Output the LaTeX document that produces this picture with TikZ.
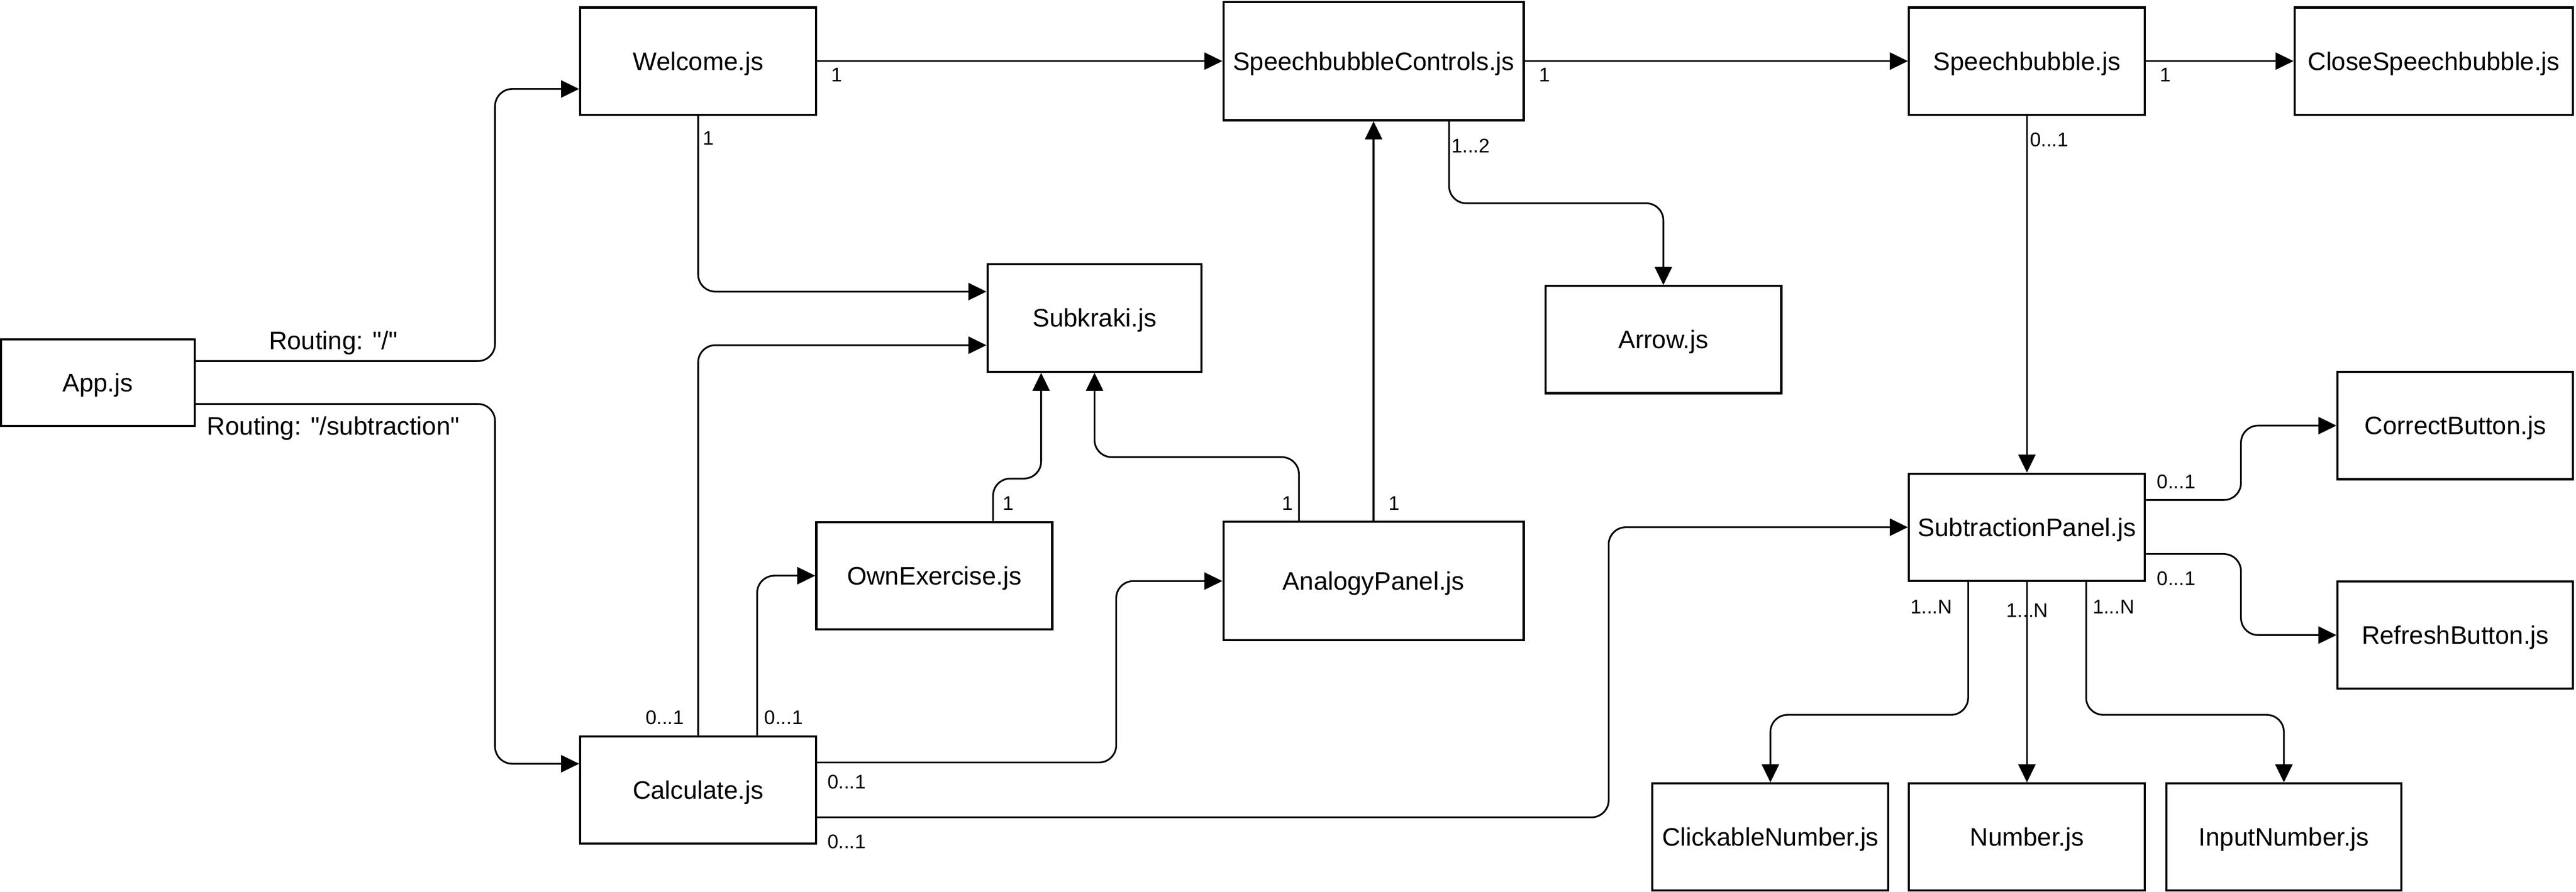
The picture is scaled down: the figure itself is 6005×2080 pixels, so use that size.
\documentclass[tikz,border=0pt]{standalone}
\usepackage{fontspec}
\setmainfont{Liberation Sans}[Ligatures=TeXOff]
\usetikzlibrary{arrows.meta}
\tikzset{
  box/.style={draw, line width=5pt, minimum width=550pt, minimum height=250pt, inner sep=0pt,
    font=\fontsize{59}{70}\selectfont, text height=42pt, text depth=0pt},
  conn/.style={line width=4pt, rounded corners=40pt, -{Triangle[length=42pt,width=40pt]}},
  lbl/.style={inner sep=0pt, font=\fontsize{46}{55}\selectfont, text height=33pt, text depth=0pt},
  rlbl/.style={inner sep=0pt, font=\fontsize{59}{70}\selectfont, text height=42pt, text depth=0pt}
}
\begin{document}
\begin{tikzpicture}[x=1pt,y=-1pt]
\useasboundingbox (0,0) rectangle (6005,2080);
% nodes
\node[box, minimum width=452pt, minimum height=202pt] (app) at (228,892) {App.js};
\node[box] (welcome) at (1627.5,142.5) {Welcome.js};
\node[box, minimum width=700pt, minimum height=276pt] (sbc) at (3202,142.5) {SpeechbubbleControls.js};
\node[box] (sb) at (4725,142.5) {Speechbubble.js};
\node[box, minimum width=649pt] (closesb) at (5673.5,142.5) {CloseSpeechbubble.js};
\node[box, minimum width=499pt, minimum height=251pt] (subkraki) at (2551.5,741.5) {Subkraki.js};
\node[box] (arrowjs) at (3877.5,792) {Arrow.js};
\node[box] (ownex) at (2178,1342.5) {OwnExercise.js};
\node[box, minimum width=700pt, minimum height=276pt] (analogy) at (3202,1355) {AnalogyPanel.js};
\node[box] (calc) at (1627.5,1842) {Calculate.js};
\node[box] (subpanel) at (4725,1229.5) {SubtractionPanel.js};
\node[box, minimum width=549pt] (correct) at (5723.5,992.5) {CorrectButton.js};
\node[box, minimum width=549pt] (refresh) at (5723.5,1481) {RefreshButton.js};
\node[box] (clicknum) at (4127,1952) {ClickableNumber.js};
\node[box] (number) at (4725,1952) {Number.js};
\node[box, minimum width=548pt] (inputnum) at (5324,1952) {InputNumber.js};
% connectors
\draw[conn] ([yshift=50pt]app.east) -- (1154,842) |- ([yshift=-65pt]welcome.west);
\draw[conn] ([yshift=-50pt]app.east) -- (1154,942) |- ([yshift=61pt]calc.west);
\draw[conn] (welcome.east) -- (sbc.west);
\draw[conn] (welcome.south) |- ([yshift=61.5pt]subkraki.west);
\draw[conn] (calc.north) |- ([yshift=-63.5pt]subkraki.west);
\draw[conn] ([xshift=137.5pt]calc.north) |- (ownex.west);
\draw[conn] ([yshift=64pt]calc.east) -- (2602,1778) |- (analogy.west);
\draw[conn] ([yshift=-64pt]calc.east) -- (3750,1906) |- (subpanel.west);
\draw[conn] ([xshift=137pt]ownex.north) -- (2315,1116) -| ([xshift=-124.5pt]subkraki.south);
\draw[conn] ([xshift=-174pt]analogy.north) -- (3028,1066) -| (subkraki.south);
\draw[conn] (analogy.north) -- (sbc.south);
\draw[conn] ([xshift=176pt]sbc.south) -- (3378,474) -| (arrowjs.north);
\draw[conn] (sbc.east) -- (sb.west);
\draw[conn] (sb.east) -- (closesb.west);
\draw[conn] (sb.south) -- (subpanel.north);
\draw[conn] ([yshift=63.5pt]subpanel.east) -- (5224,1166) |- (correct.west);
\draw[conn] ([yshift=-62.5pt]subpanel.east) -- (5224,1292) |- (refresh.west);
\draw[conn] ([xshift=-137pt]subpanel.south) -- (4588,1667) -| (clicknum.north);
\draw[conn] (subpanel.south) -- (number.north);
\draw[conn] ([xshift=138pt]subpanel.south) -- (4863,1667) -| (inputnum.north);
% labels
\node[rlbl] (r1) at (777,794) {Routing: "/"};
\node[rlbl] (r2) at (777,993) {Routing: "/subtraction"};
\node[lbl] (l1) at (1951,174) {1};
\node[lbl] (l2) at (1652,322) {1};
\node[lbl] (l3) at (3601,174) {1};
\node[lbl] (l4) at (3428,340) {1...2};
\node[lbl] (l5) at (5048,174) {1};
\node[lbl] (l6) at (4777,325) {0...1};
\node[lbl] (l7) at (1550,1673) {0...1};
\node[lbl] (l8) at (1827,1673) {0...1};
\node[lbl] (l9) at (1974,1823) {0...1};
\node[lbl] (l10) at (1974,1962) {0...1};
\node[lbl] (l11) at (2351,1173) {1};
\node[lbl] (l12) at (3001,1173) {1};
\node[lbl] (l13) at (3250,1173) {1};
\node[lbl] (l14) at (5073,1123) {0...1};
\node[lbl] (l15) at (5073,1348) {0...1};
\node[lbl] (l16) at (4502,1415) {1...N};
\node[lbl] (l17) at (4726,1423) {1...N};
\node[lbl] (l18) at (4927,1415) {1...N};
\end{tikzpicture}
\end{document}
